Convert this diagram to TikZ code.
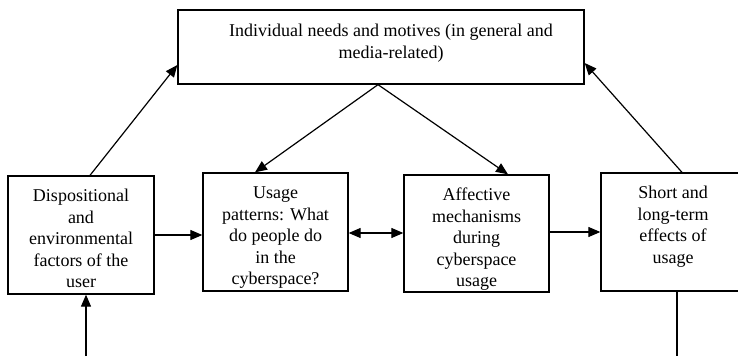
\documentclass[tikz,border=0pt]{standalone}
\usepackage{fontspec}
\setmainfont{Liberation Serif}
\usetikzlibrary{arrows.meta}
\tikzset{
  box/.style={draw, line width=1.3pt, rectangle, inner sep=0pt, font=\fontsize{18}{21.6}\selectfont},
  conn/.style={line width=1.2pt, -{Triangle[length=12pt,width=10pt]}},
  plain/.style={line width=1.2pt},
}
\newcommand{\boxtext}[3]{\parbox[c][#1][t]{#2}{\centering\rule{0pt}{25.5pt}#3}}
\begin{document}
\begin{tikzpicture}[x=1pt,y=-1pt]
\useasboundingbox (0,0) rectangle (738,356);
\node[box, minimum width=406pt, minimum height=74pt] (top) at (381,47)
  {\parbox[c][74pt][t]{406pt}{\hfill\parbox[t]{386pt}{\centering\fontsize{18}{22.8}\selectfont\rule{0pt}{26pt}Individual needs and motives (in general and\\ media-related)}}};
\node[box, minimum width=146pt, minimum height=118pt] (d) at (81,235)
  {\boxtext{118pt}{146pt}{Dispositional\\ and\\ environmental\\ factors of the\\ user}};
\node[box, minimum width=145pt, minimum height=118pt] (u) at (275.5,232)
  {\boxtext{118pt}{145pt}{Usage\\ patterns: What\\ do people do\\ in the\\ cyberspace?}};
\node[box, minimum width=145pt, minimum height=117pt] (a) at (476.5,233.5)
  {\boxtext{117pt}{145pt}{Affective\\ mechanisms\\ during\\ cyberspace\\ usage}};
\node[box, minimum width=144pt, minimum height=118pt] (s) at (673,232)
  {\boxtext{118pt}{144pt}{Short and\\ long-term\\ effects of\\ usage}};
\coordinate (bin) at (86,356);
\coordinate (sout) at (677,356);
\draw[conn] (d.east) -- (d.east -| u.west);
\draw[line width=1.2pt, {Triangle[length=12pt,width=10pt]}-{Triangle[length=12pt,width=10pt]}] (u.east |- 0,233) -- (a.west |- 0,233);
\draw[conn] (a.east |- 0,232) -- (s.west |- 0,232);
\draw[conn] (bin) -- (bin |- d.south);
\draw[plain] (sout |- s.south) -- (sout);
\draw[conn] ([xshift=9pt]d.north) -- ([yshift=-18pt]top.west);
\draw[conn] ([xshift=9pt]s.north) -- ([yshift=-16pt]top.east);
\draw[conn] ([xshift=-3pt]top.south) -- ([xshift=-20.5pt]u.north);
\draw[conn] ([xshift=-3pt]top.south) -- ([xshift=31.5pt]a.north);
\end{tikzpicture}
\end{document}
